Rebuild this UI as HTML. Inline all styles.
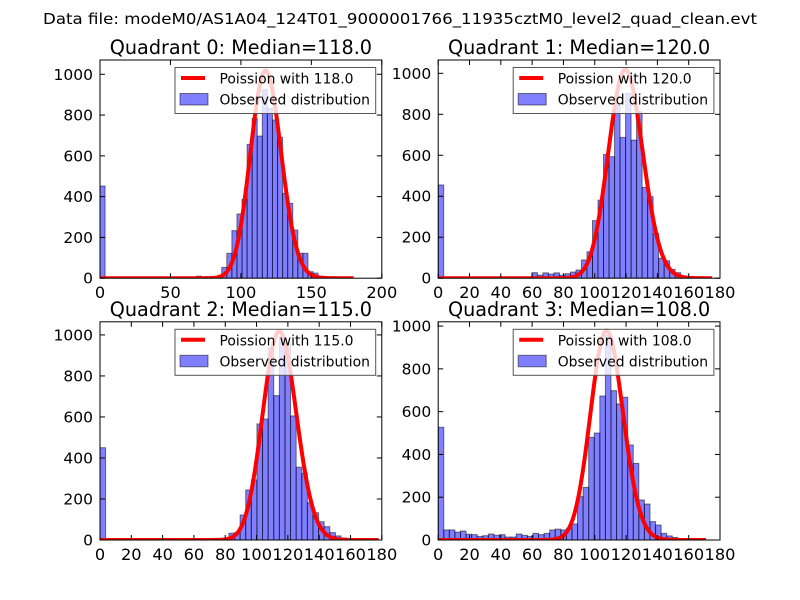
<!DOCTYPE html>
<html>
<head>
<meta charset="utf-8">
<style>
  html, body { margin: 0; padding: 0; background: #ffffff; }
  svg { display: block; }
  text { font-family: "DejaVu Sans", "Liberation Sans", sans-serif; fill: #000; }
</style>
</head>
<body>
<svg id="fig" width="800" height="600" viewBox="0 0 800 600" xmlns="http://www.w3.org/2000/svg">
  <rect x="0" y="0" width="800" height="600" fill="#ffffff"/>
  <text x="400" y="24" text-anchor="middle" font-size="15.5" textLength="714" lengthAdjust="spacingAndGlyphs">Data file: modeM0/AS1A04_124T01_9000001766_11935cztM0_level2_quad_clean.evt</text>
</svg>
<script>
// ---- data ----
const quadrantNames = ["Quadrant 0", "Quadrant 1", "Quadrant 2", "Quadrant 3"];
const medians = [118.0, 120.0, 115.0, 108.0];
const binWidths = [3.6, 3.52, 3.58, 3.56];
const xMaxes = [200, 180, 180, 180];
const yMaxes = [1070, 1065, 1064, 1020];
const xTickStep = [50, 20, 20, 20];
const yTicks = [0, 200, 400, 600, 800, 1000];
const curveEnds = [180, 175, 178, 171];
const curvePeaks = [1018, 1018, 1018, 978];
const q0Counts = [452,0,0,0,0,0,0,0,0,0, 0,0,0,0,0,0,0,0,0,10, 0,0,5,0,53,122,233,315,387,656, 784,697,926,833,776,691,416,367,236,122, 122,32,25,10,0,0,0,0,0,0];
const q1Counts = [455,0,0,0,0,0,0,0,0,0, 0,0,0,5,0,0,5,27,15,26, 20,26,15,22,30,40,89,129,281,381, 604,593,845,687,902,674,812,443,398,219, 97,85,43,27,10,0,0,0,0,0];
const q2Counts = [450,0,0,0,0,0,0,0,0,5, 0,0,0,0,0,0,0,0,0,5, 8,0,8,33,36,122,244,293,566,590, 938,704,992,955,605,355,325,182,133,89, 65,36,20,10,0,0,0,0,0,0];
const q3Counts = [527,47,47,37,42,27,25,17,20,28, 22,25,14,14,28,22,17,31,25,31, 47,51,47,55,75,203,246,480,500,673, 958,698,636,667,444,358,187,168,86,70, 31,19,12,0,0,0,0,0,0,0];
const allCounts = [q0Counts, q1Counts, q2Counts, q3Counts];

// ---- layout ----
const NS = "http://www.w3.org/2000/svg";
const svg = document.getElementById("fig");
const panels = [{x:100,y:60},{x:438.2,y:60},{x:100,y:321.8},{x:438.2,y:321.8}];
const PW = 281.8, PH = 218.2;

function mk(tag, attrs, parent) {
  const e = document.createElementNS(NS, tag);
  for (const k in attrs) e.setAttribute(k, attrs[k]);
  (parent || svg).appendChild(e);
  return e;
}
function lgamma(z) {
  let s = 0;
  while (z < 7) { s -= Math.log(z); z += 1; }
  const z2 = 1 / (z * z);
  return s + (z - 0.5) * Math.log(z) - z + 0.5 * Math.log(2 * Math.PI) +
    (1 / z) * (1 / 12 - z2 * (1 / 360 - z2 / 1260));
}
function logPois(k, lam) { return k * Math.log(lam) - lam - lgamma(k + 1); }

for (let p = 0; p < 4; p++) {
  const P = panels[p];
  const xs = v => P.x + v / xMaxes[p] * PW;
  const ys = v => P.y + PH - v / yMaxes[p] * PH;

  const g = mk("g", {});
  
  

  const clip = mk("clipPath", {id: "clip" + p}, g);
  mk("rect", {x: P.x, y: P.y, width: PW, height: PH}, clip);

  const t = mk("text", {x: P.x + PW / 2, y: P.y - 6, "text-anchor": "middle", "font-size": "19.2"}, g);
  t.textContent = quadrantNames[p] + ": Median=" + medians[p].toFixed(1);
  
  

  const barG = mk("g", {"clip-path": "url(#clip" + p + ")"}, g);
  
  
  const counts = allCounts[p];
  for (let i = 0; i < counts.length; i++) {
    if (counts[i] <= 0) continue;
    const x0 = xs(i * binWidths[p]), x1 = xs((i + 1) * binWidths[p]);
    const r = mk("rect", {x: x0, y: ys(counts[i]), width: x1 - x0, height: ys(0) - ys(counts[i]),
      fill: "#0000ff", "fill-opacity": "0.5", stroke: "#000", "stroke-opacity": "0.5", "stroke-width": "1"}, barG);
    
    
  }

  const lam = medians[p];
  const mode = Math.floor(lam);
  const lmax = logPois(mode, lam);
  let d = "";
  for (let k = 0; k <= curveEnds[p]; k++) {
    const v = curvePeaks[p] * Math.exp(logPois(k, lam) - lmax);
    d += (k === 0 ? "M" : "L") + xs(k).toFixed(2) + "," + ys(v).toFixed(2);
  }
  const path = mk("path", {d: d, fill: "none", stroke: "#ff0000", "stroke-width": "4", "stroke-linejoin": "round",
    "clip-path": "url(#clip" + p + ")"}, g);
  
  

  for (let v = 0; v <= xMaxes[p] + 0.001; v += xTickStep[p]) {
    const x = xs(v);
    mk("line", {x1: x, x2: x, y1: P.y + PH, y2: P.y + PH - 5, stroke: "#000", "stroke-width": "1"}, g);
    mk("line", {x1: x, x2: x, y1: P.y, y2: P.y + 5, stroke: "#000", "stroke-width": "1"}, g);
    const tl = mk("text", {x: x, y: P.y + PH + 20, "text-anchor": "middle", "font-size": "16.2"}, g);
    tl.textContent = String(v);
    
    
  }
  for (const v of yTicks) {
    const y = ys(v);
    mk("line", {x1: P.x, x2: P.x + 5, y1: y, y2: y, stroke: "#000", "stroke-width": "1"}, g);
    mk("line", {x1: P.x + PW, x2: P.x + PW - 5, y1: y, y2: y, stroke: "#000", "stroke-width": "1"}, g);
    const tl = mk("text", {x: P.x - 7, y: y + 5.5, "text-anchor": "end", "font-size": "15.5"}, g);
    tl.textContent = String(v);
    
    
  }

  const fr = mk("rect", {x: P.x, y: P.y, width: PW, height: PH, fill: "none", stroke: "#000", "stroke-width": "1"}, g);
  
  

  const lg = mk("g", {}, g);
  
  
  const LX = P.x + 75, LY = P.y + 7.5;
  mk("rect", {x: LX, y: LY, width: 200.7, height: 46, fill: "#ffffff", "fill-opacity": "0.8", stroke: "#555", "stroke-width": "1"}, lg);
  const ll = mk("line", {x1: LX + 6, x2: LX + 30, y1: LY + 10.5, y2: LY + 10.5, stroke: "#ff0000", "stroke-width": "4"}, lg);
  
  
  const t1 = mk("text", {x: LX + 44.5, y: LY + 16, "font-size": "13.9"}, lg);
  t1.textContent = "Poission with " + medians[p].toFixed(1);
  
  
  const lp = mk("rect", {x: LX + 5, y: LY + 26, width: 28, height: 11.5, fill: "#0000ff", "fill-opacity": "0.5", stroke: "#000", "stroke-opacity": "0.5"}, lg);
  
  
  const t2 = mk("text", {x: LX + 44.5, y: LY + 37, "font-size": "13.9"}, lg);
  t2.textContent = "Observed distribution";
  
  
}
</script>
</body>
</html>
